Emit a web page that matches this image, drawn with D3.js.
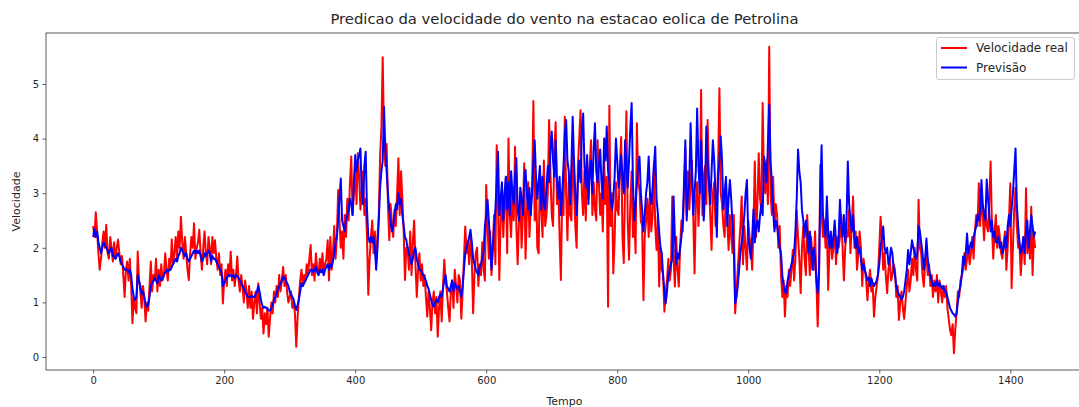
<!DOCTYPE html>
<html><head><meta charset="utf-8">
<script src="https://cdn.jsdelivr.net/npm/d3@7"></script>
<style>
body{margin:0;background:#fff;}
svg{display:block;}
text{font-family:"DejaVu Sans",sans-serif;fill:#262626;}
</style>
</head><body>
<svg id="chart" width="1079" height="407"></svg>
<script>
const chartTitle = "Predicao da velocidade do vento na estacao eolica de Petrolina";
const xLabel = "Tempo";
const yLabel = "Velocidade";
const seriesNames = ["Velocidade real", "Previsão"];
const xTicks = [0, 200, 400, 600, 800, 1000, 1200, 1400];
const yTicks = [0, 1, 2, 3, 4, 5];
const step = 2; // time units between consecutive samples

const real = [
2.4,2.2,2.65,2.3,1.9,1.6,1.8,2.1,2.3,2.0,2.42,1.9,1.8,2.2,2.0,1.75,2.1,1.8,2.0,2.15,1.9,1.7,1.85,1.5,1.1,1.6,1.75,1.4,1.8,1.3,
0.62,1.1,0.9,0.8,1.93,1.4,1.2,0.9,1.3,1.1,0.65,1.0,0.85,1.3,1.75,1.2,1.5,1.4,1.8,1.2,1.6,1.3,1.7,1.4,1.5,1.9,1.6,1.4,1.8,1.6,
2.15,1.7,1.9,2.2,1.8,2.3,2.0,2.57,2.1,1.8,2.2,1.9,1.6,1.41,1.9,2.2,2.0,2.45,1.8,2.0,2.1,2.33,1.9,1.6,2.0,2.3,1.9,1.7,2.2,2.0,
1.7,2.2,1.9,2.14,1.8,1.6,1.9,1.5,1.7,0.98,1.4,1.6,1.3,1.7,1.5,1.93,1.4,1.6,1.3,1.5,1.84,1.4,1.2,1.5,1.3,1.0,1.4,1.2,0.9,1.3,
0.9,1.2,0.7,1.0,1.2,0.8,1.35,1.0,0.7,0.9,0.43,0.8,0.6,0.9,0.37,0.7,1.0,0.8,1.2,1.0,1.3,1.1,1.5,1.2,1.4,1.65,1.3,1.5,1.2,1.0,
1.1,1.2,0.9,1.0,0.8,0.19,0.7,1.1,1.4,1.6,1.3,1.5,1.4,1.7,1.5,1.8,2.05,1.5,1.7,1.4,1.9,1.6,1.5,1.8,1.6,1.9,1.5,1.7,1.8,2.14,
1.4,2.2,1.6,1.9,2.4,1.8,2.2,3.06,2.5,2.0,2.3,1.8,2.6,2.2,2.9,2.5,3.2,3.67,2.6,3.0,3.5,2.8,3.73,3.3,2.7,3.0,3.4,2.6,2.9,2.2,
1.14,1.8,2.2,2.5,1.9,2.3,1.7,2.2,2.6,3.67,4.2,5.49,4.0,3.5,3.9,2.8,2.14,2.8,2.5,2.2,2.7,2.4,3.0,3.64,2.6,3.4,2.9,2.3,1.41,2.0,
2.0,1.6,2.3,1.5,2.1,2.5,1.7,1.1,1.6,1.9,1.4,1.7,1.3,1.5,1.1,0.74,1.2,0.9,0.49,1.0,1.2,0.8,1.1,0.37,0.9,1.2,0.65,1.3,1.78,1.4,
1.2,0.9,0.65,1.2,1.4,0.9,1.6,1.3,1.0,1.5,1.4,0.7,1.2,1.8,2.39,1.9,2.1,1.7,2.2,1.8,0.8,1.5,1.9,2.0,1.3,1.7,1.5,2.1,1.6,1.4,
3.15,2.4,1.8,2.3,1.5,2.0,2.6,1.7,3.88,2.8,1.41,2.5,3.0,2.2,2.8,3.3,1.9,4.0,2.6,2.2,3.1,2.5,3.85,2.4,1.7,2.5,3.0,2.0,2.6,3.55,
1.8,2.6,3.2,2.2,2.8,3.0,4.69,2.5,3.2,2.0,1.9,3.4,2.7,2.2,3.6,2.4,2.6,3.0,4.34,3.4,2.6,2.4,3.8,4.3,2.8,3.2,2.2,1.41,3.0,2.6,
4.4,3.0,2.14,3.2,2.6,2.5,3.8,3.1,2.4,2.0,3.5,4.0,4.52,3.0,2.6,3.4,2.5,3.6,2.9,3.5,3.97,2.6,3.2,2.7,2.5,3.97,3.2,2.6,3.0,2.3,
3.6,2.8,3.3,0.92,4.6,2.4,3.0,1.53,2.14,3.2,2.7,2.6,3.5,4.03,2.2,1.72,3.2,4.5,2.5,1.78,2.8,3.4,2.2,2.6,1.9,4.28,3.2,3.06,2.5,2.4,
1.04,2.2,2.5,2.9,2.2,3.0,2.3,2.6,3.55,2.4,1.96,2.6,1.29,2.0,1.6,1.5,0.83,1.2,1.4,1.8,1.4,1.6,2.94,1.8,1.29,2.2,1.6,1.29,2.0,2.5,
2.3,3.0,3.8,2.6,3.4,2.7,3.2,3.6,2.6,1.53,2.8,3.2,2.4,3.0,4.89,2.6,3.3,3.5,2.8,4.34,3.2,2.6,1.96,3.0,3.2,2.4,2.8,3.5,4.92,3.0,
2.8,2.4,2.2,3.2,2.5,1.96,2.6,2.2,1.9,2.6,0.8,1.2,1.6,2.0,2.4,2.94,1.7,2.4,2.0,1.6,2.5,2.2,2.0,1.6,2.4,3.58,2.2,2.8,3.73,2.9,
2.7,4.65,3.2,3.0,3.6,2.8,5.68,3.0,2.6,3.3,2.4,2.8,2.6,2.0,2.4,1.5,1.1,1.4,0.74,1.3,1.1,1.6,1.3,1.6,1.96,1.4,1.8,2.69,2.2,1.8,
1.17,2.0,2.4,1.8,1.5,2.6,2.0,1.5,2.2,1.8,1.6,2.3,1.4,0.56,1.4,3.52,2.6,2.2,2.5,2.0,2.4,1.23,2.0,2.2,1.8,2.0,2.4,1.7,2.2,2.0,
2.2,2.6,2.0,1.4,2.0,2.3,2.2,2.7,1.9,2.4,2.94,2.0,2.3,1.6,1.9,2.3,2.0,1.3,1.8,1.6,1.4,1.04,1.4,1.6,1.2,1.3,0.74,1.1,1.3,1.5,
2.0,2.57,2.2,1.6,1.9,1.5,1.17,1.6,1.8,1.4,1.5,1.7,1.6,1.1,1.3,0.68,1.0,1.2,0.9,0.7,1.0,1.3,1.6,1.2,1.4,1.8,1.5,2.0,1.6,1.4,
2.88,2.0,1.9,1.5,1.29,1.7,1.9,1.5,1.7,1.3,1.5,1.1,1.4,1.2,1.5,1.0,1.4,1.2,1.0,1.3,1.1,1.3,0.9,0.7,0.5,0.4,0.6,0.07,0.5,0.8,
1.2,1.1,1.4,1.5,1.6,1.9,1.6,1.8,2.0,1.7,1.9,2.2,1.8,2.3,2.6,2.4,3.18,2.4,2.9,2.6,2.14,2.7,2.4,2.3,2.9,3.58,2.4,1.8,2.3,2.6,
2.0,2.4,2.2,1.9,1.8,2.1,2.3,1.6,2.0,2.5,3.18,1.26,2.0,2.7,3.1,2.4,2.0,2.08,1.5,1.9,2.2,1.7,3.09,1.9,2.3,1.8,2.75,1.5,2.2,2.0
];

const previsao = [
2.2,2.35,2.2,2.3,2.1,2.0,1.9,2.0,2.1,2.05,2.0,1.95,1.9,1.95,2.0,1.85,1.85,1.8,1.85,1.9,1.85,1.75,1.7,1.65,1.6,1.6,1.6,1.55,1.6,1.5,
1.25,1.1,1.04,1.1,1.5,1.4,1.3,1.15,1.2,1.1,0.95,0.92,0.95,1.1,1.3,1.35,1.4,1.45,1.4,1.35,1.5,1.45,1.4,1.45,1.5,1.55,1.6,1.55,1.6,1.6,
1.65,1.7,1.75,1.8,1.75,1.85,1.9,2.0,1.95,1.9,1.85,1.9,1.8,1.75,1.8,1.85,1.9,1.95,1.9,1.95,1.9,1.95,1.85,1.75,1.8,1.9,1.85,1.9,1.95,1.9,
1.75,1.85,1.8,1.8,1.75,1.7,1.65,1.6,1.55,1.3,1.35,1.4,1.45,1.5,1.48,1.5,1.47,1.5,1.45,1.5,1.48,1.45,1.4,1.35,1.3,1.25,1.2,1.15,1.1,1.1,
1.1,1.12,1.1,1.1,1.15,1.2,1.3,1.2,1.05,0.95,0.9,0.92,0.9,0.88,0.85,0.85,0.9,0.95,1.05,1.1,1.15,1.25,1.3,1.35,1.4,1.47,1.45,1.4,1.35,1.3,
1.2,1.15,1.1,1.05,0.95,0.86,0.95,1.05,1.2,1.35,1.3,1.35,1.4,1.45,1.5,1.55,1.6,1.6,1.55,1.6,1.65,1.55,1.5,1.6,1.55,1.6,1.5,1.6,1.65,1.7,
1.6,1.7,1.65,1.75,1.9,2.1,2.2,2.5,2.9,3.27,2.5,2.4,2.3,2.5,2.6,2.7,2.9,2.8,2.6,3.2,3.7,3.4,3.6,3.7,3.82,3.0,2.8,3.5,3.76,2.7,
2.2,2.1,2.2,2.1,2.2,2.0,1.6,2.0,2.5,3.1,3.4,3.6,4.58,3.8,3.4,3.0,2.7,2.5,2.3,2.4,2.6,2.8,2.7,3.0,2.8,2.9,2.6,2.4,2.2,2.14,
2.0,1.9,1.8,1.7,1.8,1.95,2.0,1.8,1.7,1.6,1.6,1.55,1.5,1.45,1.4,1.3,1.25,1.15,1.05,0.95,0.92,1.0,1.05,1.0,1.1,1.15,1.1,1.25,1.4,1.5,
1.3,1.25,1.2,1.3,1.4,1.2,1.35,1.3,1.25,1.3,1.2,1.1,1.3,1.6,1.9,2.0,2.1,2.2,2.33,2.1,1.8,1.7,1.6,1.55,1.5,1.65,1.7,1.8,1.9,2.4,
2.6,2.88,2.5,2.1,1.6,2.0,2.4,2.7,3.2,3.76,2.6,2.9,3.2,2.5,3.0,3.3,2.7,3.2,2.6,3.4,3.0,2.8,3.3,3.64,2.7,2.5,3.1,2.9,2.6,3.2,
3.43,3.0,2.7,3.1,2.6,3.0,3.6,3.97,3.3,2.9,3.2,3.5,2.7,3.3,2.8,2.7,3.1,3.5,3.2,3.8,4.13,3.6,3.3,3.97,3.2,2.9,3.3,2.6,3.0,3.5,
4.1,4.34,3.6,3.4,2.8,3.5,4.4,3.6,3.0,2.6,3.2,3.6,3.2,4.2,4.46,3.5,3.1,3.7,2.8,3.4,3.6,3.0,3.8,4.28,3.4,3.2,3.5,3.8,3.2,2.9,
4.0,3.6,4.22,3.4,3.2,2.9,2.7,2.9,3.3,4.0,3.6,3.1,3.4,3.7,3.3,3.0,3.97,3.5,3.1,3.6,4.2,4.65,3.2,2.5,2.8,3.2,3.5,3.67,3.0,2.7,
2.3,2.6,3.0,3.2,3.67,3.0,2.8,3.1,3.5,3.85,2.9,2.63,2.3,2.0,1.9,1.5,1.2,0.98,1.2,1.5,1.6,1.7,1.8,2.94,2.2,1.7,1.9,1.8,2.0,2.2,
2.5,3.2,3.97,2.5,3.0,3.2,4.28,3.4,2.6,3.0,3.4,4.55,3.5,3.0,3.97,3.2,2.5,3.0,4.22,3.6,3.2,2.8,3.4,3.97,3.6,3.0,2.2,3.3,3.6,4.04,
3.6,2.7,3.0,3.3,2.4,2.9,3.24,2.9,2.4,1.96,0.98,1.1,1.3,1.6,1.9,2.1,2.3,2.6,3.0,3.24,2.2,2.0,1.8,2.2,2.7,2.1,2.4,2.5,2.3,2.6,
2.8,2.6,3.67,3.5,3.2,3.9,4.62,3.6,3.2,2.7,2.3,2.5,2.4,2.2,2.0,1.9,1.5,1.3,1.2,1.17,1.4,1.5,1.6,1.7,1.8,1.9,2.3,2.9,3.8,3.4,
3.2,2.69,2.5,2.2,2.5,2.3,1.9,2.3,2.0,1.6,2.0,1.8,1.4,1.17,1.6,3.0,3.88,2.6,2.4,2.2,2.94,2.3,2.0,2.3,2.0,2.2,2.5,2.1,1.9,2.2,
2.88,2.4,2.2,2.6,2.1,2.5,3.58,2.8,2.5,2.3,2.6,2.2,2.0,2.2,1.9,2.0,1.8,1.6,1.7,1.6,1.5,1.4,1.45,1.3,1.44,1.35,1.3,1.35,1.4,1.5,
1.7,2.0,2.2,2.39,2.0,1.9,2.0,1.7,1.8,2.0,1.9,1.6,1.5,1.3,1.2,1.15,1.1,1.05,1.1,1.2,1.4,1.6,1.96,1.7,1.9,2.14,2.0,1.9,1.8,1.9,
2.4,2.3,2.1,1.9,1.6,1.8,2.17,1.8,1.6,1.5,1.4,1.3,1.35,1.3,1.4,1.3,1.35,1.3,1.25,1.3,1.2,1.2,1.1,1.0,0.9,0.85,0.8,0.78,0.74,0.8,
1.0,1.2,1.3,1.5,1.84,1.7,1.9,2.26,1.9,2.0,2.1,2.0,2.2,2.3,2.4,2.6,2.5,2.7,3.24,2.8,2.6,2.5,3.25,2.9,2.6,2.3,2.5,2.2,2.3,2.1,
2.1,2.2,2.0,2.1,1.9,2.0,2.2,2.0,2.4,2.6,2.4,2.7,3.0,3.4,3.82,2.8,2.4,2.1,1.9,2.0,2.2,1.9,2.3,2.5,2.0,2.3,2.6,2.4,2.2,2.3
];

const colors = ["#ff0000", "#0000ff"];

const svg = d3.select("#chart");
const mLeft = 46, mRight = 1083, mTop = 33, mBottom = 370;

const x = d3.scaleLinear().domain([-72, 1511]).range([mLeft, mRight]);
const y = d3.scaleLinear().domain([-0.238, 5.934]).range([mBottom, mTop]);

svg.append("defs").append("clipPath").attr("id", "clip")
  .append("rect").attr("x", mLeft).attr("y", mTop).attr("width", mRight - mLeft).attr("height", mBottom - mTop);

const line = d3.line().x((d, i) => x(i * step)).y(d => y(d));

const g = svg.append("g").attr("clip-path", "url(#clip)");
[real, previsao].forEach((s, k) => {
  g.append("path").datum(s)
    .attr("fill", "none")
    .attr("stroke", colors[k])
    .attr("stroke-width", 2)
    .attr("stroke-linejoin", "round")
    .attr("d", line);
});

const xAxis = d3.axisBottom(x).tickValues(xTicks).tickSize(3.5).tickPadding(3.5).tickFormat(d3.format("d"));
const yAxis = d3.axisLeft(y).tickValues(yTicks).tickSize(3.5).tickPadding(3.5).tickFormat(d3.format("d"));

const gx = svg.append("g").attr("transform", `translate(0,${mBottom})`).call(xAxis);
const gy = svg.append("g").attr("transform", `translate(${mLeft},0)`).call(yAxis);
[gx, gy].forEach(ga => {
  ga.select(".domain").remove();
  ga.selectAll(".tick line").attr("stroke", "#333").attr("stroke-width", 0.8);
  ga.selectAll(".tick text").attr("font-size", 10).attr("font-family", "DejaVu Sans").attr("fill", "#262626");
});

svg.append("rect").attr("x", mLeft).attr("y", mTop).attr("width", mRight - mLeft).attr("height", mBottom - mTop)
  .attr("fill", "none").attr("stroke", "#333").attr("stroke-width", 0.8);

svg.append("text").attr("x", (mLeft + mRight) / 2).attr("y", 24).attr("text-anchor", "middle")
  .attr("font-size", 14.8).text(chartTitle);
svg.append("text").attr("x", (mLeft + mRight) / 2).attr("y", 405).attr("text-anchor", "middle")
  .attr("font-size", 11).text(xLabel);
svg.append("text").attr("transform", `translate(20,${(mTop + mBottom) / 2}) rotate(-90)`)
  .attr("text-anchor", "middle").attr("font-size", 11).text(yLabel);

const lg = svg.append("g");
lg.append("rect").attr("x", 936.5).attr("y", 37.5).attr("width", 138).attr("height", 42).attr("rx", 2.5)
  .attr("fill", "#fff").attr("fill-opacity", 0.8).attr("stroke", "#ccc").attr("stroke-width", 1);
seriesNames.forEach((n, k) => {
  const yy = 48 + k * 19.5;
  lg.append("line").attr("x1", 941).attr("x2", 967).attr("y1", yy).attr("y2", yy)
    .attr("stroke", colors[k]).attr("stroke-width", 2);
  lg.append("text").attr("x", 976).attr("y", yy + 4.3).attr("font-size", 12).text(n);
});
</script>
</body></html>
